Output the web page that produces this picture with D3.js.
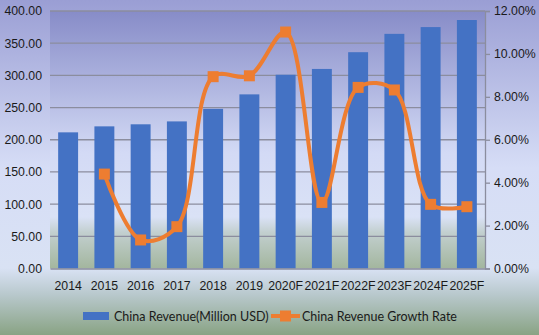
<!DOCTYPE html>
<html>
<head>
<meta charset="utf-8">
<script src="https://cdn.jsdelivr.net/npm/d3@7"></script>
<style>
  html, body { margin: 0; padding: 0; background: #fff; }
  svg { display: block; font-family: Lato, "Open Sans", "Liberation Sans", sans-serif; }
</style>
</head>
<body>
<svg id="chart" width="539" height="335"></svg>
<script>
// Chart data
const years = ["2014", "2015", "2016", "2017", "2018", "2019", "2020F", "2021F", "2022F", "2023F", "2024F", "2025F"];
const revenue = [211.5, 220.8, 224.0, 228.5, 248.0, 270.5, 301.0, 310.0, 336.0, 364.5, 375.0, 386.0];
const growth = [null, 4.40, 1.33, 1.95, 8.94, 8.98, 11.02, 3.08, 8.44, 8.32, 2.99, 2.88];
const leftTicks = [0, 50, 100, 150, 200, 250, 300, 350, 400];
const rightTicks = [0, 2, 4, 6, 8, 10, 12];
const seriesNames = ["China Revenue(Million USD)", "China Revenue Growth Rate"];

const W = 539, H = 335;
const m = { left: 50, right: 54, top: 11, bottom: 66.5 };
const svg = d3.select("#chart");
const defs = svg.append("defs");

// Outer background gradient
const bg = defs.append("linearGradient").attr("id", "bgGrad")
  .attr("x1", 0).attr("y1", 0).attr("x2", 0).attr("y2", 1);
[[0, "#9a9ed4"], [0.5, "#d6ddf6"], [0.8, "#d9e2f4"], [0.88, "#b8c8cc"], [1, "#89a384"]]
  .forEach(([o, c]) => bg.append("stop").attr("offset", o).attr("stop-color", c));

// Plot area gradient
const pg = defs.append("linearGradient").attr("id", "plotGrad")
  .attr("x1", 0).attr("y1", 0).attr("x2", 0).attr("y2", 1);
[[0, "#878cc8"], [0.55, "#d3daf5"], [0.8, "#dae2f6"], [0.86, "#c2cfcf"], [1, "#a3b69e"]]
  .forEach(([o, c]) => pg.append("stop").attr("offset", o).attr("stop-color", c));

svg.append("rect").attr("width", W).attr("height", H).attr("fill", "url(#bgGrad)");

const x = d3.scaleBand().domain(years).range([m.left, W - m.right]).paddingInner(0.45).paddingOuter(0.225);
const y = d3.scaleLinear().domain([0, 400]).range([H - m.bottom, m.top]);
const y2 = d3.scaleLinear().domain([0, 12]).range([H - m.bottom, m.top]);

svg.append("rect")
  .attr("x", m.left).attr("y", m.top)
  .attr("width", W - m.left - m.right).attr("height", H - m.top - m.bottom)
  .attr("fill", "url(#plotGrad)");

// Gridlines
svg.append("g").selectAll("line").data(leftTicks.slice(1)).join("line")
  .attr("x1", m.left).attr("x2", W - m.right)
  .attr("y1", d => y(d)).attr("y2", d => y(d))
  .attr("stroke", "#8b8d9e").attr("stroke-width", 1.3);

// Bars
svg.append("g").selectAll("rect").data(years).join("rect")
  .attr("x", d => x(d)).attr("width", x.bandwidth())
  .attr("y", (d, i) => y(revenue[i]))
  .attr("height", (d, i) => y(0) - y(revenue[i]))
  .attr("fill", "#4472c4");

// Left axis
const leftAxis = svg.append("g")
  .attr("transform", `translate(${m.left},0)`)
  .call(d3.axisLeft(y).tickValues(leftTicks).tickFormat(d3.format(".2f")).tickSize(0).tickPadding(8));
leftAxis.select(".domain").remove();
leftAxis.selectAll("text").attr("font-size", 12.3).attr("fill", "#1a1a1a");

// Right axis
const rightAxis = svg.append("g")
  .attr("transform", `translate(${W - m.right},0)`)
  .call(d3.axisRight(y2).tickValues(rightTicks).tickFormat(d => d3.format(".2f")(d) + "%").tickSize(5).tickPadding(4));
rightAxis.select(".domain").attr("stroke", "#8b8d9e").attr("stroke-width", 1.3);
rightAxis.selectAll(".tick line").attr("stroke", "#8b8d9e").attr("stroke-width", 1.3);
rightAxis.selectAll("text").attr("font-size", 12.3).attr("fill", "#1a1a1a");

// Bottom axis
const bottomAxis = svg.append("g")
  .attr("transform", `translate(0,${H - m.bottom})`)
  .call(d3.axisBottom(x).tickSize(0).tickPadding(13));
bottomAxis.select(".domain").attr("stroke", "#8b8d9e").attr("stroke-width", 1.3);
bottomAxis.selectAll("text").attr("font-size", 12.3).attr("fill", "#1a1a1a");

// Growth rate line
const pts = years.map((d, i) => ({ year: d, v: growth[i] })).filter(p => p.v !== null);
const line = d3.line()
  .x(p => x(p.year) + x.bandwidth() / 2)
  .y(p => y2(p.v))
  .curve(d3.curveCatmullRom.alpha(0.5));
svg.append("path").datum(pts)
  .attr("d", line).attr("fill", "none")
  .attr("stroke", "#ed7d31").attr("stroke-width", 4).attr("stroke-linejoin", "round");
const ms = 11;
svg.append("g").selectAll("rect").data(pts).join("rect")
  .attr("x", p => x(p.year) + x.bandwidth() / 2 - ms / 2)
  .attr("y", p => y2(p.v) - ms / 2)
  .attr("width", ms).attr("height", ms)
  .attr("fill", "#ed7d31");

// Legend
const lg = svg.append("g").attr("font-size", 12.5).attr("fill", "#1a1a1a");
lg.append("rect").attr("x", 83).attr("y", 312).attr("width", 26).attr("height", 8).attr("fill", "#4472c4");
lg.append("text").attr("x", 114).attr("y", 320.5).text(seriesNames[0]);
lg.append("line").attr("x1", 271).attr("x2", 300).attr("y1", 316).attr("y2", 316)
  .attr("stroke", "#ed7d31").attr("stroke-width", 4);
lg.append("rect").attr("x", 280).attr("y", 310.5).attr("width", 11).attr("height", 11).attr("fill", "#ed7d31");
lg.append("text").attr("x", 302).attr("y", 320.5).text(seriesNames[1]);
</script>
</body>
</html>
